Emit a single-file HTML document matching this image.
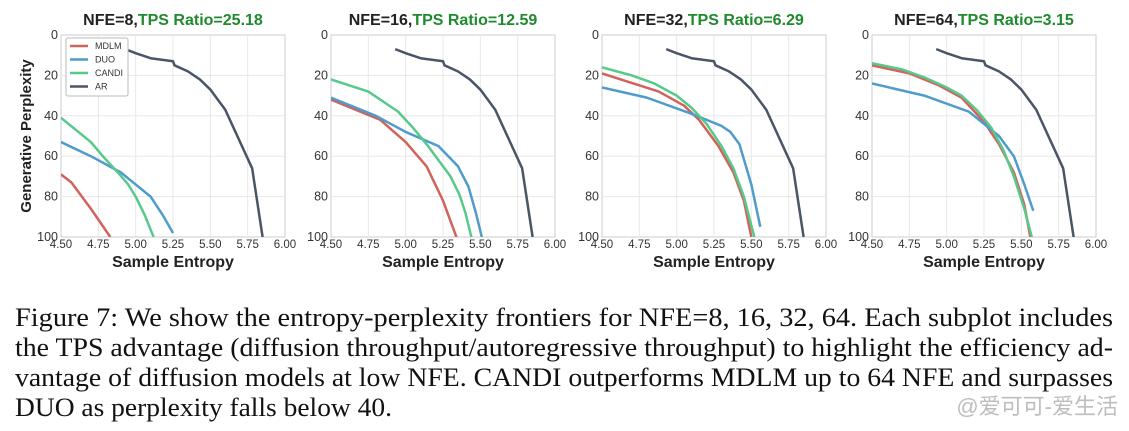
<!DOCTYPE html>
<html><head><meta charset="utf-8"><style>
body{margin:0;background:#fff;width:1129px;height:431px;overflow:hidden}
svg{display:block}
</style></head><body>
<svg id="fig" width="1129" height="431" xmlns="http://www.w3.org/2000/svg" font-family="Liberation Sans, DejaVu Sans, sans-serif"></svg>
<script>
const arE=[4.93,5.0,5.1,5.25,5.26,5.35,5.43,5.5,5.6,5.78,5.85];
const arP=[7,9,11.5,13,15,18,22,27,37,66,100];
const titlesNFE=["NFE=8,","NFE=16,","NFE=32,","NFE=64,"];
const titlesTPS=["TPS Ratio=25.18","TPS Ratio=12.59","TPS Ratio=6.29","TPS Ratio=3.15"];
const mdlmE=[[4.5,4.57,4.7,4.83],[4.5,4.83,5.0,5.14,5.25,5.34],[4.5,4.88,5.05,5.15,5.28,5.38,5.45,5.5],[4.5,4.75,4.95,5.1,5.25,5.35,5.45,5.52,5.56]];
const mdlmP=[[69,73,86,100],[32,42,53,65,82,100],[19,28,35,42,55,68,82,100],[15,19,25,31,43,54,68,84,100]];
const duoE=[[4.5,4.7,4.9,5.1,5.18,5.25],[4.5,4.8,5.0,5.22,5.35,5.42,5.47,5.51],[4.5,4.8,5.1,5.3,5.36,5.42,5.5,5.56],[4.5,4.85,5.15,5.25,5.35,5.45,5.52,5.58]];
const duoP=[[53,60,68,80,89,98],[31,40,48,55,65,75,88,100],[26,31,39,45,48,54,74,95],[24,30,38,44,50,60,74,87]];
const candiE=[[4.5,4.6,4.7,4.78,4.88,4.95,5.0,5.06,5.12],[4.5,4.75,4.95,5.05,5.15,5.23,5.3,5.36,5.4,5.44],[4.5,4.7,4.85,5.0,5.1,5.2,5.3,5.38,5.45,5.52],[4.5,4.7,4.85,5.0,5.1,5.2,5.3,5.38,5.45,5.52,5.57]];
const candiP=[[41,47,53,60,68,74,80,89,100],[22,28,38,46,55,63,70,79,88,100],[16,20,24,30,36,44,55,66,80,100],[14,17,21,26,30,37,46,57,70,86,100]];
const xTicks=[4.5,4.75,5.0,5.25,5.5,5.75,6.0];
const xTickLabels=["4.50","4.75","5.00","5.25","5.50","5.75","6.00"];
const yTicks=[0,20,40,60,80,100];
const legendNames=["MDLM","DUO","CANDI","AR"];
const colors={MDLM:"#d2625a",DUO:"#4f9ccc",CANDI:"#57c98b",AR:"#4a5566"};
const lefts=[61,331,602,872];
const W=224,T=35,B=237;
const svg=document.getElementById('fig');
const NS="http://www.w3.org/2000/svg";
function el(tag,attrs,parent){const e=document.createElementNS(NS,tag);for(const k in attrs)e.setAttribute(k,attrs[k]);(parent||svg).appendChild(e);return e;}
for(let i=0;i<4;i++){
  const L=lefts[i];
  const g=el('g',{});
  
  
  const sx=v=>L+(v-4.5)/1.5*W;
  const sy=v=>T+v/100*(B-T);
  el('rect',{x:L,y:T,width:W,height:B-T,fill:'#fff',stroke:'#ccc','stroke-width':1},g);
  xTicks.forEach((t,j)=>{
    if(j>0&&j<xTicks.length-1) el('line',{x1:sx(t),x2:sx(t),y1:T,y2:B,stroke:'#e8e8e8'},g);
    const tx=el('text',{x:sx(t),y:B+11,'font-size':11.5,'text-anchor':'middle',fill:'#333'},g);tx.textContent=xTickLabels[j];
    
    
  });
  yTicks.forEach(t=>{
    if(t>0&&t<100) el('line',{x1:L,x2:L+W,y1:sy(t),y2:sy(t),stroke:'#e8e8e8'},g);
    const tx=el('text',{x:L-3,y:sy(t)+4,'font-size':12.5,'text-anchor':'end',fill:'#333'},g);tx.textContent=t;
    
    
  });
  const clip=el('clipPath',{id:'c'+i},g);el('rect',{x:L,y:T,width:W,height:B-T},clip);
  const series=[["MDLM",mdlmE[i],mdlmP[i]],["DUO",duoE[i],duoP[i]],["CANDI",candiE[i],candiP[i]],["AR",arE,arP]];
  series.forEach(([n,xs,ys])=>{
    const p=el('polyline',{points:xs.map((x,k)=>sx(x)+','+sy(ys[k])).join(' '),fill:'none',stroke:colors[n],'stroke-width':2.5,'stroke-linejoin':'round','clip-path':'url(#c'+i+')'},g);
    
    
  });
  const t=el('text',{x:L+W/2,y:25,'font-size':16,'font-weight':'bold','text-anchor':'middle'},g);
  
  
  const s1=el('tspan',{fill:'#222'},t);s1.textContent=titlesNFE[i];
  const s2=el('tspan',{fill:'#1f8a2e'},t);s2.textContent=titlesTPS[i];
  const xl=el('text',{x:L+W/2,y:267,'font-size':16,'font-weight':'bold','text-anchor':'middle',fill:'#222'},g);xl.textContent='Sample Entropy';
  
  
}
const yl=el('text',{x:0,y:0,'font-size':15,'font-weight':'bold','text-anchor':'middle',fill:'#222',transform:'translate(31,136) rotate(-90)'});
yl.textContent='Generative Perplexity';


const lg=el('g',{});


el('rect',{x:66,y:38,width:62,height:58,rx:2,fill:'#fff',stroke:'#bbb'},lg);
legendNames.forEach((n,k)=>{
  const y=46+k*13.5;
  el('line',{x1:70,x2:88,y1:y,y2:y,stroke:colors[n],'stroke-width':2.5},lg);
  const t=el('text',{x:95,y:y+3,'font-size':9,fill:'#333'},lg);t.textContent=n;
  
  
});
const cap=["Figure 7:  We show the entropy-perplexity frontiers for NFE=8, 16, 32, 64.  Each subplot includes",
"the TPS advantage (diffusion throughput/autoregressive throughput) to highlight the efficiency ad-",
"vantage of diffusion models at low NFE. CANDI outperforms MDLM up to 64 NFE and surpasses",
"DUO as perplexity falls below 40."];
const capLen=[1098,1098,1098,377];
cap.forEach((c,k)=>{
  const t=el('text',{x:15,y:326+k*30,'font-size':26,'font-family':'Liberation Serif, serif',fill:'#111',textLength:capLen[k],lengthAdjust:'spacingAndGlyphs'});
  t.textContent=c;
  
  
});
const wm=el('text',{x:1118,y:414,'font-size':22,'text-anchor':'end',fill:'#bdbdbd','font-family':'Liberation Sans, Noto Sans CJK SC, sans-serif'});
wm.textContent='@爱可可-爱生活';


</script>
</body></html>
